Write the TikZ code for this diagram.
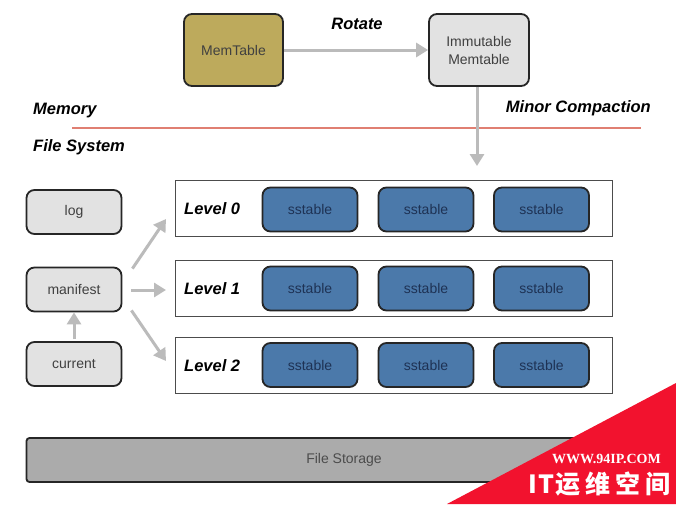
\documentclass[tikz,border=0pt]{standalone}
\usepackage{fontspec}
\setmainfont{Liberation Sans}
\newfontfamily\cjk{Noto Sans CJK SC}
\newfontfamily\wmserif{Liberation Serif}
\usetikzlibrary{arrows.meta}
\definecolor{memcol}{HTML}{BDAA5C}
\definecolor{lightbox}{HTML}{E2E2E2}
\definecolor{sscol}{HTML}{4B79AA}
\definecolor{sstext}{HTML}{1E3254}
\definecolor{arrowgray}{HTML}{BBBBBB}
\definecolor{redline}{HTML}{E07F72}
\definecolor{storecol}{HTML}{ABABAB}
\definecolor{wmred}{HTML}{F2122E}
\tikzset{
  x=1pt, y=-1pt,
  rbox/.style={draw=black!85, line width=1.8pt, rounded corners=8pt, inner sep=0pt, font=\fontsize{14}{16}\selectfont, text=black!75},
  membox/.style={rbox, fill=memcol, minimum width=99pt, minimum height=72pt},
  immbox/.style={rbox, fill=lightbox, minimum width=100pt, minimum height=72pt, align=center},
  smallbox/.style={rbox, fill=lightbox, minimum width=95pt, minimum height=44pt},
  ssbox/.style={rbox, fill=sscol, text=sstext, minimum width=95pt, minimum height=44pt},
  levelbox/.style={draw=black!70, line width=1pt, fill=white, minimum width=437pt, minimum height=56pt, inner sep=0pt},
  lvllabel/.style={font=\fontsize{16.5}{18}\selectfont\bfseries\itshape, anchor=west, inner sep=0pt},
  seclabel/.style={font=\fontsize{16.5}{18}\selectfont\bfseries\itshape, inner sep=0pt},
  garrow/.style={draw=arrowgray, line width=3pt, -{Triangle[width=14pt,length=12pt]}},
}
\begin{document}
\begin{tikzpicture}
\useasboundingbox (0,0) rectangle (676,504);
\fill[white] (0,0) rectangle (676,504);

% top
\node[membox] (mem) at (233.5,50) {MemTable};
\node[immbox] (imm) at (479,50) {Immutable\\[2pt]Memtable};
\node[seclabel] (rot) at (357,24) {Rotate};
\draw[garrow] (mem) -- (imm);

% separator
\node[seclabel, anchor=west] (memory) at (33,111) {Memory};
\node[seclabel, anchor=east] (minor) at (651,108) {Minor Compaction};
\node[seclabel, anchor=west] (fs) at (33,147) {File System};
\coordinate (rl) at (72,128);
\coordinate (rr) at (641,128);
\draw[redline, line width=2pt] (rl) -- (rr);
\coordinate (mctip) at (477,166);
\draw[garrow] (imm.south -| mctip) -- (mctip);

% levels
\node[levelbox] (L0) at (393.5,208.5) {};
\node[levelbox] (L1) at (393.5,288) {};
\node[levelbox] (L2) at (393.5,365) {};
\node[lvllabel] at (184,209) {Level 0};
\node[lvllabel] at (184,289) {Level 1};
\node[lvllabel] at (184,366) {Level 2};

\foreach \r/\y in {0/209.5, 1/288.5, 2/365}{
  \node[ssbox] (s\r a) at (310,\y) {sstable};
  \node[ssbox] (s\r b) at (426,\y) {sstable};
  \node[ssbox] (s\r c) at (541.5,\y) {sstable};
}

% left boxes
\node[smallbox] (log) at (74,212) {log};
\node[smallbox] (man) at (74,289.5) {manifest};
\node[smallbox] (cur) at (74,364) {current};
\draw[garrow, shorten <=2pt] (cur) -- (man);
\coordinate (t0) at (166,219);
\coordinate (t1) at (166,290);
\coordinate (t2) at (166,361);
\draw[garrow] ([xshift=10pt,yshift=-2pt]man.north east) -- (t0);
\draw[garrow] ([xshift=9pt,yshift=-0.5pt]man.east) -- (t1);
\draw[garrow] ([xshift=9pt,yshift=2pt]man.south east) -- (t2);

% file storage
\node[draw=black!85, line width=1.8pt, rounded corners=3pt, fill=storecol, minimum width=635pt, minimum height=44pt, font=\fontsize{14}{16}\selectfont, text=black!70] (store) at (344,460) {File Storage};

% watermark
\fill[wmred] (447,504) -- (676,383) -- (676,504) -- cycle;
\node[text=white, font=\wmserif\bfseries\fontsize{14}{15}\selectfont, anchor=east, inner sep=0pt] (wm1) at (661,459) {WWW.94IP.COM};
\node[text=white, font=\cjk\bfseries\fontsize{25}{27}\selectfont, anchor=east, inner sep=0pt] (wm2) at (671,484) {I\hspace{2pt}T\hspace{1pt}运\hspace{5pt}维\hspace{5pt}空\hspace{5pt}间};
\end{tikzpicture}
\end{document}
